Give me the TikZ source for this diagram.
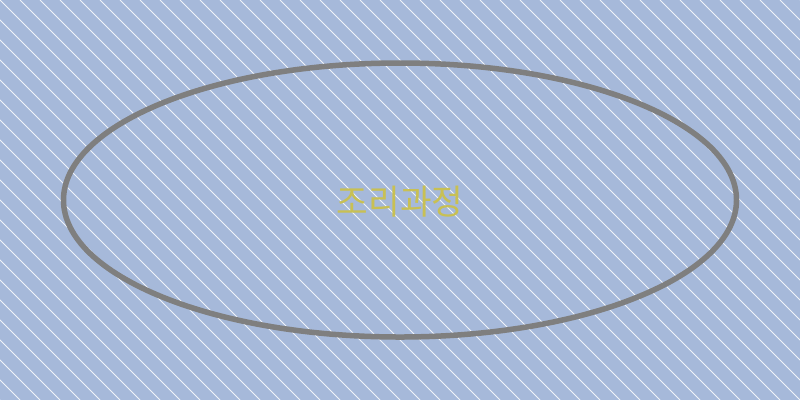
\documentclass[tikz,border=0pt]{standalone}
\usepackage{fontspec}
\usetikzlibrary{shapes.geometric}
\newfontfamily\krfont{Noto Sans CJK KR}
\definecolor{bgblue}{HTML}{A6B9DA}
\definecolor{ringgray}{HTML}{7F7F7F}
\definecolor{labelyellow}{HTML}{C8C054}
\begin{document}
\begin{tikzpicture}[x=1bp,y=-1bp,
  hatch/.style={white,line width=0.9bp,opacity=0.85},
  ring/.style={draw=ringgray,line width=5.5bp,ellipse,minimum width=673bp,minimum height=274bp,inner sep=0pt},
  lbl/.style={text=labelyellow,font=\krfont\fontsize{34.5}{40}\selectfont,inner sep=0pt}]
\useasboundingbox (0,0) rectangle (800,400);
\fill[bgblue] (0,0) rectangle (800,400);
\begin{scope}
\clip (0,0) rectangle (800,400);
\foreach \k in {-20,...,40} {
  \draw[hatch] (\k*20,0) -- (\k*20+400,400);
}
\end{scope}
\node[ring] (e) at (400,200) {};
\node[lbl] (t) at (400,202) {조리과정};
\end{tikzpicture}
\end{document}
